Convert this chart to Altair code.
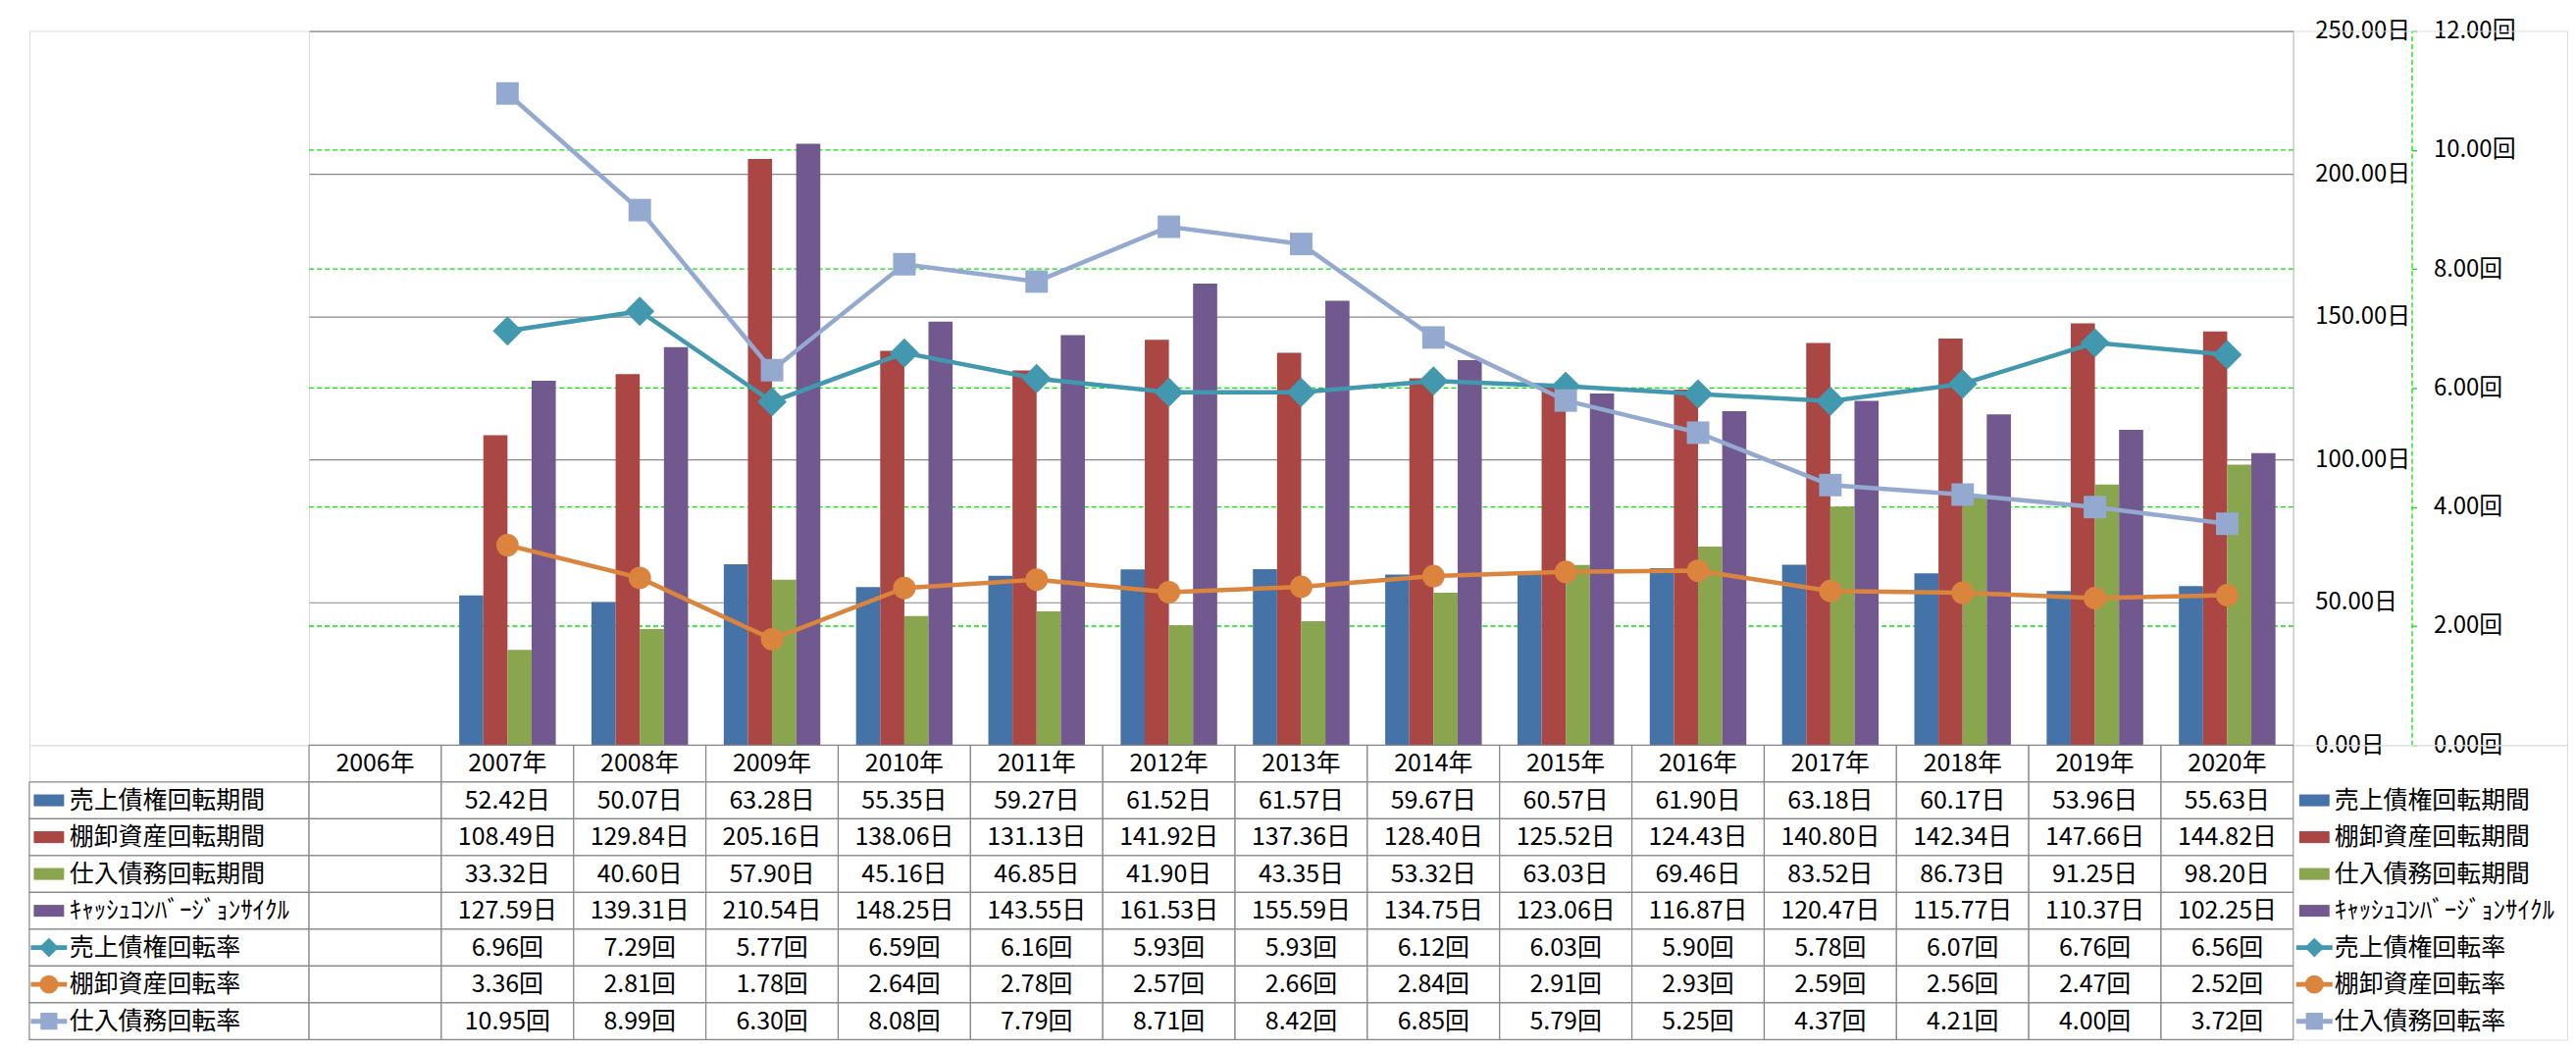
import altair as alt
import pandas as pd

# ---------------- data ----------------
years = [f"{y}年" for y in range(2006, 2021)]
data_years = years[1:]  # 2006 has no values

bar_names = ["売上債権回転期間", "棚卸資産回転期間", "仕入債務回転期間", "ｷｬｯｼｭｺﾝﾊﾞｰｼﾞｮﾝｻｲｸﾙ"]
line_names = ["売上債権回転率", "棚卸資産回転率", "仕入債務回転率"]

ar_days = [52.42, 50.07, 63.28, 55.35, 59.27, 61.52, 61.57, 59.67, 60.57, 61.90, 63.18, 60.17, 53.96, 55.63]
inv_days = [108.49, 129.84, 205.16, 138.06, 131.13, 141.92, 137.36, 128.40, 125.52, 124.43, 140.80, 142.34, 147.66, 144.82]
ap_days = [33.32, 40.60, 57.90, 45.16, 46.85, 41.90, 43.35, 53.32, 63.03, 69.46, 83.52, 86.73, 91.25, 98.20]
ccc_days = [127.59, 139.31, 210.54, 148.25, 143.55, 161.53, 155.59, 134.75, 123.06, 116.87, 120.47, 115.77, 110.37, 102.25]
ar_turn = [6.96, 7.29, 5.77, 6.59, 6.16, 5.93, 5.93, 6.12, 6.03, 5.90, 5.78, 6.07, 6.76, 6.56]
inv_turn = [3.36, 2.81, 1.78, 2.64, 2.78, 2.57, 2.66, 2.84, 2.91, 2.93, 2.59, 2.56, 2.47, 2.52]
ap_turn = [10.95, 8.99, 6.30, 8.08, 7.79, 8.71, 8.42, 6.85, 5.79, 5.25, 4.37, 4.21, 4.00, 3.72]

bar_values = [ar_days, inv_days, ap_days, ccc_days]
line_values = [ar_turn, inv_turn, ap_turn]

day_ticks = [0, 50, 100, 150, 200, 250]
turn_ticks = [0, 2, 4, 6, 8, 10, 12]
turn_grid = [2, 4, 6, 8, 10]

# ---------------- styles ----------------
FONT = "Noto Sans CJK JP"
GRAY = "#878787"
GREEN = "#00E600"
bar_colors = ["#4572A7", "#AA4643", "#89A54E", "#71588F"]
line_colors = ["#4198AF", "#DB843D", "#93A9CF"]
line_shapes = ["diamond", "circle", "square"]
marker_sizes = [900, 529, 529]
key_marker_sizes = [400, 361, 300]

all_names = bar_names + line_names
all_colors = bar_colors + line_colors
color_scale = alt.Scale(domain=all_names, range=all_colors)

PLOT_W = 2029
PLOT_H = 730
TABLE_H = 301
HDR_W = 286
LEG_W = 280

# ---------------- frames ----------------
bar_df = pd.DataFrame(
    [{"year": y, "series": n, "value": v}
     for n, vals in zip(bar_names, bar_values) for y, v in zip(data_years, vals)]
)
line_df = pd.DataFrame(
    [{"year": y, "series": n, "value": v}
     for n, vals in zip(line_names, line_values) for y, v in zip(data_years, vals)]
)

table_rows = []
for y in years:
    table_rows.append({"year": y, "row": 0, "text": y})
for r, (vals, unit) in enumerate(
    [(v, "日") for v in bar_values] + [(v, "回") for v in line_values], start=1
):
    lookup = dict(zip(data_years, vals))
    for y in years:
        t = f"{lookup[y]:.2f}{unit}" if y in lookup else ""
        table_rows.append({"year": y, "row": r, "text": t})
table_df = pd.DataFrame(table_rows)

hdr_df = pd.DataFrame({
    "row": list(range(1, 8)),
    "series": all_names,
    "label": all_names,
    "kind": ["bar"] * 4 + ["line"] * 3,
})

# ---------------- encodings ----------------
x_enc = alt.X("year:N", scale=alt.Scale(domain=years, paddingInner=0, paddingOuter=0), axis=None)
y_tab = alt.Y("row:O", scale=alt.Scale(domain=list(range(8)), paddingInner=0, paddingOuter=0), axis=None)

# ---------------- main plot ----------------
grid2 = alt.Chart(pd.DataFrame({"v": turn_grid})).mark_rule(
    color=GREEN, strokeDash=[5, 3], strokeWidth=1.3
).encode(
    y=alt.Y("v:Q", scale=alt.Scale(domain=[0, 12], nice=False), axis=None)
)

bars = alt.Chart(bar_df).mark_bar().encode(
    x=x_enc,
    xOffset=alt.XOffset("series:N", scale=alt.Scale(domain=bar_names, paddingInner=0, paddingOuter=0.74)),
    y=alt.Y(
        "value:Q",
        scale=alt.Scale(domain=[0, 250], nice=False),
        axis=alt.Axis(
            orient="right", values=day_ticks, title=None,
            labelExpr="format(datum.value, '.2f') + '日'",
            ticks=False, labelPadding=22, labelOverlap=False,
            grid=True, gridColor=GRAY, gridWidth=1.2,
            domainColor=GRAY, domainWidth=1.2,
            labelFont=FONT, labelFontSize=24, labelColor="#000000",
        ),
    ),
    color=alt.Color("series:N", scale=color_scale, legend=None),
)

line_base = alt.Chart(line_df).encode(
    x=x_enc,
    y=alt.Y(
        "value:Q",
        scale=alt.Scale(domain=[0, 12], nice=False),
        axis=alt.Axis(
            orient="right", offset=121, values=turn_ticks, title=None,
            labelExpr="format(datum.value, '.2f') + '回'",
            ticks=True, tickSize=8, tickColor=GREEN, tickDash=[5, 3], tickWidth=1.3,
            domainColor=GREEN, domainDash=[5, 3], domainWidth=1.3,
            grid=False, labelPadding=14, labelOverlap=False,
            labelFont=FONT, labelFontSize=24, labelColor="#000000",
        ),
    ),
    color=alt.Color("series:N", scale=color_scale, legend=None),
)
line_layers = [line_base.mark_line(strokeWidth=4.5)]
for name, shp, sz in zip(line_names, line_shapes, marker_sizes):
    line_layers.append(
        line_base.transform_filter(alt.datum.series == name).mark_point(
            shape=shp, size=sz, filled=True, opacity=1
        )
    )
lines = alt.layer(*line_layers)

main = alt.layer(grid2, bars, lines).resolve_scale(y="independent").properties(
    width=PLOT_W, height=PLOT_H
)

# ---------------- data table ----------------
cells = alt.Chart(table_df).mark_rect(fill="white", stroke=GRAY, strokeWidth=1.2).encode(x=x_enc, y=y_tab)
cell_text = alt.Chart(table_df).mark_text(font=FONT, fontSize=25, color="#000000", baseline="middle").encode(
    x=x_enc, y=y_tab, text="text:N"
)
table = alt.layer(cells, cell_text).properties(width=PLOT_W, height=TABLE_H)

# ---------------- legend keys (row headers and right legend) ----------------
RECT_PATH = "M-1,-0.39H1V0.39H-1Z"
SEG_PATH = "M-1,0H1"


def key_layers(key_x, label_x):
    layers = []
    bar_rows = alt.Chart(hdr_df).transform_filter(alt.datum.kind == "bar")
    layers.append(
        bar_rows.mark_point(shape=RECT_PATH, size=961, filled=True, opacity=1).encode(
            x=alt.value(key_x), y=y_tab,
            color=alt.Color("series:N", scale=color_scale, legend=None),
        )
    )
    line_rows = alt.Chart(hdr_df).transform_filter(alt.datum.kind == "line")
    layers.append(
        line_rows.mark_point(shape=SEG_PATH, size=1369, filled=False, strokeWidth=5, opacity=1).encode(
            x=alt.value(key_x), y=y_tab,
            color=alt.Color("series:N", scale=color_scale, legend=None),
        )
    )
    for name, shp, sz in zip(line_names, line_shapes, key_marker_sizes):
        layers.append(
            alt.Chart(hdr_df).transform_filter(alt.datum.series == name).mark_point(
                shape=shp, size=sz, filled=True, opacity=1
            ).encode(
                x=alt.value(key_x), y=y_tab,
                color=alt.Color("series:N", scale=color_scale, legend=None),
            )
        )
    layers.append(
        alt.Chart(hdr_df).mark_text(
            font=FONT, fontSize=25, color="#000000", align="left", baseline="middle"
        ).encode(x=alt.value(label_x), y=y_tab, text="label:N")
    )
    return layers


hdr_cells = alt.Chart(hdr_df).mark_rect(fill="white", stroke=GRAY, strokeWidth=1.2).encode(y=y_tab)
row_header = alt.layer(hdr_cells, *key_layers(20, 41)).properties(width=HDR_W, height=TABLE_H)
right_legend = alt.layer(*key_layers(21.5, 42)).properties(width=LEG_W, height=TABLE_H)

# ---------------- blanks ----------------
blank_df = pd.DataFrame({"a": [0]})
blank_left = alt.Chart(blank_df).mark_point(opacity=0).encode(
    x=alt.value(0), y=alt.value(0)
).properties(width=HDR_W, height=PLOT_H)
blank_right = alt.Chart(blank_df).mark_point(opacity=0).encode(
    x=alt.value(0), y=alt.value(0)
).properties(width=LEG_W, height=PLOT_H)

chart = alt.concat(
    blank_left, main, blank_right,
    row_header, table, right_legend,
    columns=3, spacing=0, bounds="flush", align="each",
).properties(
    padding={"left": 13, "top": 9, "right": 0, "bottom": 0},
    background="white",
).configure_view(strokeWidth=0).configure(font=FONT)

chart.save("out.html", embed_options={"renderer": "svg", "actions": False})
